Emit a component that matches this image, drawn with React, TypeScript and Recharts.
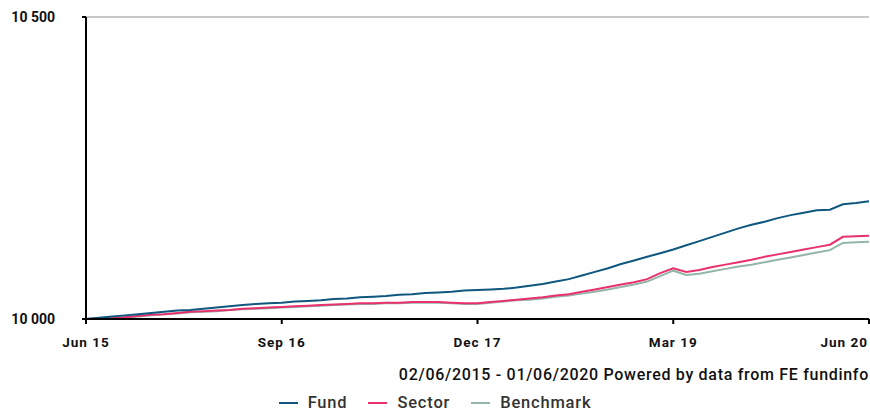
import React from "react";
import { LineChart, Line, XAxis, YAxis, CartesianGrid } from "recharts";

// monthly points, Jun 2015 -> Jun 2020
const MONTH_NAMES = ["Jan", "Feb", "Mar", "Apr", "May", "Jun", "Jul", "Aug", "Sep", "Oct", "Nov", "Dec"];
const months: string[] = [];
for (let i = 0; i <= 60; i++) {
  const m = (5 + i) % 12;
  const yr = 15 + Math.floor((5 + i) / 12);
  months.push(`${MONTH_NAMES[m]} ${yr}`);
}

const X_TICKS = ["Jun 15", "Sep 16", "Dec 17", "Mar 19", "Jun 20"];
const Y_TICKS = [10000, 10500];

const fund = [
  10000, 10002, 10004, 10006, 10008, 10010, 10012, 10014, 10015, 10017,
  10019, 10021, 10023, 10025, 10026, 10027, 10029, 10030, 10031, 10033,
  10034, 10036, 10037, 10038, 10040, 10041, 10043, 10044, 10045, 10047,
  10048, 10049, 10050, 10052, 10055, 10058, 10062, 10066, 10072, 10078,
  10084, 10091, 10097, 10103, 10109, 10115, 10122, 10129, 10136, 10143,
  10150, 10156, 10161, 10167, 10172, 10176, 10180, 10181, 10190, 10192,
  10195,
];

const sector = [
  10000, 10001, 10002, 10003, 10005, 10007, 10008, 10010, 10012, 10013,
  10014, 10015, 10017, 10018, 10019, 10020, 10021, 10022, 10023, 10024,
  10025, 10026, 10026, 10027, 10027, 10028, 10028, 10028, 10027, 10026,
  10026, 10028, 10030, 10032, 10034, 10036, 10039, 10041, 10045, 10049,
  10053, 10057, 10061, 10066, 10076, 10084, 10078, 10081, 10086, 10090,
  10094, 10098, 10103, 10107, 10111, 10115, 10119, 10123, 10136, 10137,
  10138,
];

const benchmark = [
  10000, 10001, 10002, 10003, 10004, 10006, 10008, 10009, 10011, 10012,
  10013, 10015, 10016, 10017, 10018, 10019, 10020, 10021, 10022, 10023,
  10024, 10025, 10025, 10026, 10026, 10027, 10027, 10027, 10026, 10025,
  10025, 10027, 10029, 10031, 10032, 10034, 10037, 10039, 10042, 10045,
  10049, 10053, 10057, 10062, 10071, 10080, 10073, 10075, 10079, 10083,
  10087, 10090, 10094, 10098, 10102, 10106, 10110, 10114, 10126, 10127,
  10128,
];

const data = months.map((month, i) => ({
  month,
  fund: fund[i],
  sector: sector[i],
  benchmark: benchmark[i],
}));

const FONT = "Roboto, sans-serif";
const COLORS = { fund: "#10577f", sector: "#e8316c", benchmark: "#94b6a6" };

function XTick({ x, y, payload }: { x?: number; y?: number; payload?: { value: string } }) {
  const last = payload?.value === X_TICKS[X_TICKS.length - 1];
  return (
    <text
      x={last ? (x ?? 0) - 1 : x}
      y={y}
      dy={17}
      textAnchor={last ? "end" : "middle"}
      style={{ fontSize: 13.5, fontWeight: 700, fill: "#111", fontFamily: FONT, letterSpacing: 1 }}
    >
      {payload?.value}
    </text>
  );
}

function YTick({ x, y, payload }: { x?: number; y?: number; payload?: { value: number } }) {
  const v = payload ? String(payload.value).replace(/(\d{2})(\d{3})/, "$1 $2") : "";
  return (
    <text x={x} y={y} dy={5} textAnchor="end" style={{ fontSize: 14, fontWeight: 700, fill: "#111", fontFamily: FONT }}>
      {v}
    </text>
  );
}

const legendItems = [
  { key: "fund", label: "Fund" },
  { key: "sector", label: "Sector" },
  { key: "benchmark", label: "Benchmark" },
] as const;

export default function App() {
  return (
    <div style={{ position: "absolute", left: 0, top: 0, width: 870, height: 409, background: "#fff", fontFamily: FONT, overflow: "hidden" }}>
      <LineChart width={870} height={350} data={data} margin={{ top: 17, right: 1, left: 0, bottom: 0 }}>
        <CartesianGrid horizontal vertical={false} stroke="#c8c8c8" strokeWidth={2} />
        <XAxis
          dataKey="month"
          ticks={X_TICKS}
          interval={0}
          tick={<XTick />}
          axisLine={{ stroke: "#000", strokeWidth: 2 }}
          tickLine={{ stroke: "#000", strokeWidth: 2 }}
          tickSize={5}
          tickMargin={6}
          height={31}
        />
        <YAxis
          domain={[10000, 10500]}
          ticks={Y_TICKS}
          tick={<YTick />}
          axisLine={{ stroke: "#000", strokeWidth: 2 }}
          tickLine={{ stroke: "#000", strokeWidth: 2 }}
          tickSize={4}
          tickMargin={27}
          width={86}
        />
        <Line type="linear" dataKey="benchmark" stroke={COLORS.benchmark} strokeWidth={2} dot={false} isAnimationActive={false} />
        <Line type="linear" dataKey="sector" stroke={COLORS.sector} strokeWidth={2} dot={false} isAnimationActive={false} />
        <Line type="linear" dataKey="fund" stroke={COLORS.fund} strokeWidth={2} dot={false} isAnimationActive={false} />
      </LineChart>
      <div
        style={{
          position: "absolute",
          right: 1,
          top: 365,
          fontSize: 16,
          lineHeight: "20px",
          fontWeight: 500,
          letterSpacing: 0.7,
          color: "#111",
          whiteSpace: "nowrap",
        }}
      >
        02/06/2015 - 01/06/2020 Powered by data from FE fundinfo
      </div>
      <div
        style={{
          position: "absolute",
          left: 0,
          width: 870,
          top: 395,
          height: 16,
          lineHeight: "16px",
          display: "flex",
          justifyContent: "center",
          gap: 21,
          fontSize: 16.5,
          fontWeight: 500,
          letterSpacing: 0.8,
          color: "#333",
        }}
      >
        {legendItems.map((it) => (
          <div key={it.key} style={{ display: "flex", alignItems: "center", gap: 10 }}>
            <span style={{ display: "inline-block", width: 19, height: 2, background: COLORS[it.key] }} />
            <span>{it.label}</span>
          </div>
        ))}
      </div>
    </div>
  );
}
